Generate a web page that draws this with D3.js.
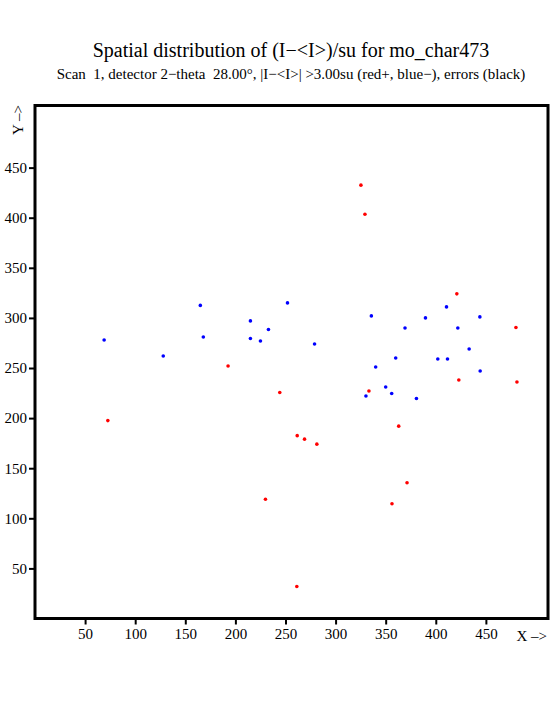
<!DOCTYPE html>
<html>
<head>
<meta charset="utf-8">
<script src="https://cdn.jsdelivr.net/npm/d3@7/dist/d3.min.js"></script>
<style>
  body { margin: 0; background: #fff; }
  svg text { font-family: "Liberation Serif", "Times New Roman", serif; fill: #000; white-space: pre; }
</style>
</head>
<body>
<svg id="chart" width="555" height="725"></svg>
<script>
// points above +3su (red) and below -3su (blue), pixel-space x/y
const redX = [72.7, 192.7, 244.3, 261.7, 269, 281.3, 230, 421, 480, 423, 481, 333.3, 363, 325.3, 329.3, 371.3, 356.3, 261.3];
const redY = [197.5, 252, 225.5, 182.5, 179, 174, 119, 324, 290.5, 238, 236, 227, 192, 432.5, 403.5, 135.5, 114.5, 32];

const blueX = [69, 165, 215, 168, 215, 128, 252, 233, 225, 279, 410.7, 335.7, 389.7, 444, 369.3, 422, 433.3, 360, 402, 411.7, 340, 444.3, 350, 330.3, 356, 380.7];
const blueY = [278, 312.5, 297, 281, 279.5, 262, 315, 288.5, 277, 274, 311, 302, 300, 301, 290, 290, 269, 260, 259, 259, 251, 247, 231, 222, 224.5, 219.5];

const xTicks = [50, 100, 150, 200, 250, 300, 350, 400, 450];
const yTicks = [50, 100, 150, 200, 250, 300, 350, 400, 450];

const title = "Spatial distribution of (I\u2212<I>)/su for mo_char473";
const subtitle = "Scan  1, detector 2\u2212theta  28.00\u00b0, |I\u2212<I>| >3.00su (red+, blue\u2212), errors (black)";

const svg = d3.select("#chart");
const frame = { left: 35, right: 548, top: 105.5, bottom: 618.5 };

const x = d3.scaleLinear().domain([0, 512]).range([frame.left, frame.right]);
const y = d3.scaleLinear().domain([0, 512]).range([frame.bottom, frame.top]);

svg.append("text")
  .attr("x", 291).attr("y", 57)
  .attr("text-anchor", "middle")
  .style("font-size", "20px")
  .text(title);

svg.append("text")
  .attr("x", 291).attr("y", 79)
  .attr("text-anchor", "middle")
  .style("font-size", "15px")
  .text(subtitle);

// axes
const xAxis = svg.append("g")
  .attr("transform", `translate(0,${frame.bottom})`)
  .call(d3.axisBottom(x).tickValues(xTicks).tickSize(6).tickPadding(4));
const yAxis = svg.append("g")
  .attr("transform", `translate(${frame.left},0)`)
  .call(d3.axisLeft(y).tickValues(yTicks).tickSize(6).tickPadding(2));

[xAxis, yAxis].forEach(a => {
  a.select(".domain").remove();
  a.selectAll("line").attr("stroke", "#000").attr("stroke-width", 2);
  a.selectAll("text")
    .style("font-family", '"Liberation Serif", serif')
    .style("font-size", "15px")
    .attr("fill", "#000");
});

svg.append("rect")
  .attr("x", frame.left).attr("y", frame.top)
  .attr("width", frame.right - frame.left)
  .attr("height", frame.bottom - frame.top)
  .attr("fill", "none")
  .attr("stroke", "#000")
  .attr("stroke-width", 3);

svg.append("text")
  .attr("x", 547).attr("y", 641)
  .attr("text-anchor", "end")
  .style("font-size", "15px")
  .text("X \u2013>");

svg.append("text")
  .attr("transform", "translate(23,135) rotate(-90)")
  .style("font-size", "15px")
  .text("Y \u2013>");

// points
const pts = svg.append("g");
pts.selectAll(".blue")
  .data(d3.zip(blueX, blueY))
  .enter().append("circle")
  .attr("class", "blue")
  .attr("cx", d => x(d[0])).attr("cy", d => y(d[1]))
  .attr("r", 1.8)
  .attr("fill", "#0000ff");

pts.selectAll(".red")
  .data(d3.zip(redX, redY))
  .enter().append("circle")
  .attr("class", "red")
  .attr("cx", d => x(d[0])).attr("cy", d => y(d[1]))
  .attr("r", 1.8)
  .attr("fill", "#ff0000");
</script>
</body>
</html>
